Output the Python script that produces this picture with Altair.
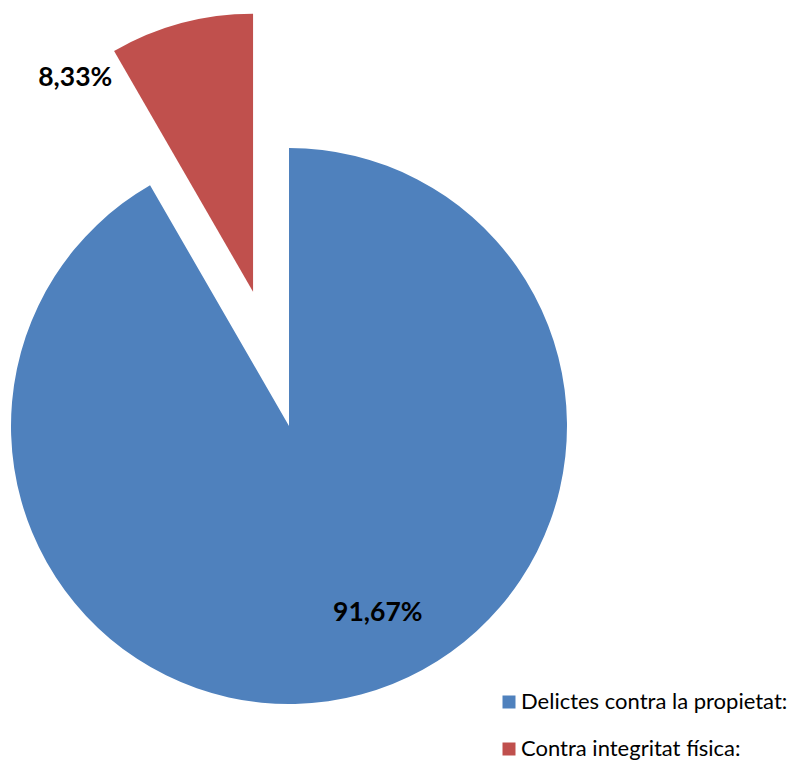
import altair as alt
import pandas as pd

# ---- data ----
categories = ["Delictes contra la propietat:", "Contra integritat física:"]
values = [91.67, 8.33]
labels = ["91,67%", "8,33%"]
colors = ["#4F81BD", "#C0504D"]

df = pd.DataFrame({"category": categories, "value": values, "label": labels,
                   "order": list(range(len(categories)))})

# ---- layout / style (pixels inside the drawing area) ----
W, H = 786, 753
CX, CY = 281, 418
R = 278
EXPLODE = 139           # exploded slice offset
# label placement: angle (deg, clockwise from 12 o'clock) and distance from pie centre
LAB_A = {categories[0]: 154.6, categories[1]: 328.4}
LAB_R = {categories[0]: 207, categories[1]: 408}
FONT = "Lato"

def pick(d):
    c0, c1 = categories
    return f"datum.category == '{c0}' ? {d[c0]} : {d[c1]}"

base = (
    alt.Chart(df)
    .transform_joinaggregate(total="sum(value)")
    .transform_window(cum="sum(value)", sort=[alt.SortField("order")], frame=[None, 0])
    .transform_calculate(
        start="2*PI*(datum.cum - datum.value)/datum.total",
        end="2*PI*datum.cum/datum.total",
    )
    .transform_calculate(mid="(datum.start + datum.end)/2")
    .transform_calculate(
        explode=f"datum.category == '{categories[1]}' ? {EXPLODE} : 0",
        la=f"({pick(LAB_A)})*PI/180",
        lr=pick(LAB_R),
    )
    .transform_calculate(
        px=f"{CX} + datum.explode*sin(datum.mid)",
        py=f"{CY} - datum.explode*cos(datum.mid)",
        lx=f"{CX} + datum.lr*sin(datum.la)",
        ly=f"{CY} - datum.lr*cos(datum.la)",
    )
)

arcs = base.mark_arc(radius=R, strokeWidth=0).encode(
    theta=alt.Theta("start:Q", scale=None),
    theta2="end:Q",
    x=alt.X("px:Q", scale=None),
    y=alt.Y("py:Q", scale=None),
    color=alt.Color(
        "category:N",
        scale=alt.Scale(domain=categories, range=colors),
        legend=alt.Legend(
            title=None, orient="none", legendX=490, legendY=683,
            symbolType="square", symbolSize=169, symbolStrokeWidth=0,
            labelFont=FONT, labelFontSize=22, labelColor="#000000",
            rowPadding=25, labelOffset=1, labelLimit=400,
        ),
    ),
)

texts = base.mark_text(font=FONT, fontSize=26.5, fontWeight="bold", color="#000000",
                       align="center", baseline="middle").encode(
    x=alt.X("lx:Q", scale=None),
    y=alt.Y("ly:Q", scale=None),
    text="label:N",
)

chart = (
    alt.layer(arcs, texts)
    .properties(width=W, height=H, autosize=alt.AutoSizeParams(type="none"), padding=0)
    .configure_view(stroke=None)
)

chart.save("out.html", embed_options={"renderer": "svg", "actions": False})
